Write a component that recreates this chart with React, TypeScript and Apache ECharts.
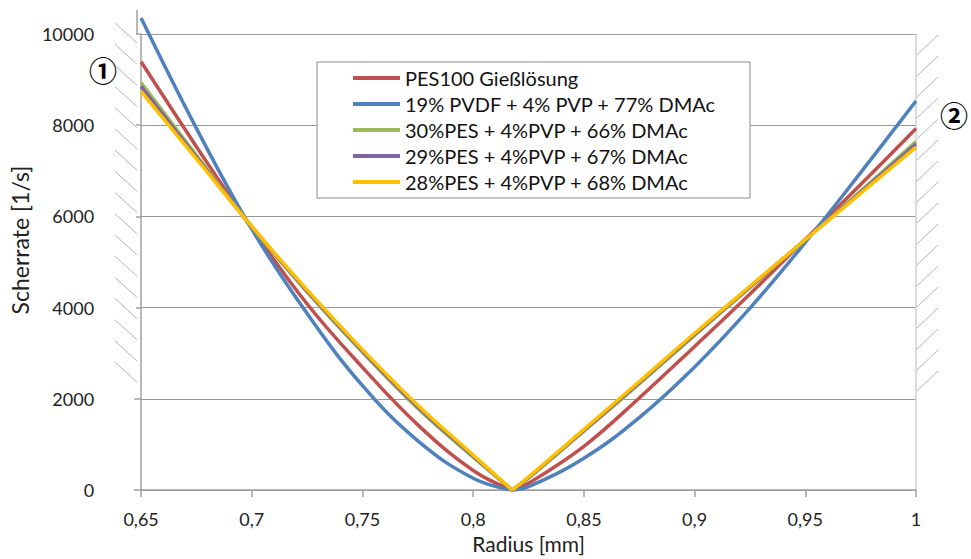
import React, { useEffect, useRef } from "react";
import * as echarts from "echarts";

// Radius [mm]; index 7 is the zero point of the shear rate
const radius = [0.65, 0.675, 0.7, 0.725, 0.75, 0.775, 0.8, 0.8176, 0.825, 0.85, 0.875, 0.9, 0.925, 0.95, 0.975, 1.0];
const pes100 = [9390, 7530, 5740, 4080, 2690, 1430, 430, 0, 150, 960, 2020, 3150, 4300, 5500, 6700, 7930];
const pvdf19 = [10350, 7930, 5720, 3870, 2290, 1080, 260, 0, 75, 700, 1590, 2700, 3990, 5430, 6960, 8530];
const pes30 = [8935, 7340, 5770, 4340, 3020, 1790, 720, 0, 260, 1290, 2330, 3390, 4440, 5490, 6555, 7640];
const pes29 = [8850, 7300, 5775, 4365, 3050, 1825, 745, 0, 275, 1310, 2355, 3415, 4455, 5490, 6530, 7585];
const pes28 = [8740, 7260, 5780, 4390, 3080, 1860, 770, 0, 290, 1330, 2380, 3440, 4470, 5490, 6505, 7520];
const zeroIndex = 7;

const seriesNames = [
  "PES100 Gießlösung",
  "19% PVDF + 4% PVP + 77% DMAc",
  "30%PES + 4%PVP + 66% DMAc",
  "29%PES + 4%PVP + 67% DMAc",
  "28%PES + 4%PVP + 68% DMAc",
];
const seriesValues = [pes100, pvdf19, pes30, pes29, pes28];
const seriesColors = ["#C0504D", "#4F81BD", "#9BBB59", "#8064A2", "#FFC000"];

const FONT = "Lato";

export default function App() {
  const ref = useRef<HTMLDivElement>(null);
  useEffect(() => {
    if (!ref.current) return;
    const chart = echarts.init(ref.current, null, { renderer: "svg" });

    const deco: any[] = [];
    deco.push({
      type: "rect",
      shape: { x: 108, y: 18, width: 28, height: 370 },
      style: { fill: "#fff" },
      z: 100,
    });
    for (let i = 0; i < 17; i++) {
      const y0 = 23 + i * 21.2;
      deco.push({
        type: "line",
        shape: { x1: 115, y1: y0, x2: 137, y2: y0 + 20 },
        style: { stroke: "#b4b4b4", lineWidth: 1 },
        z: 101,
      });
    }
    for (let i = 0; i < 17; i++) {
      const y0 = 35 + i * 21;
      deco.push({
        type: "line",
        shape: { x1: 917, y1: y0 + 20, x2: 938, y2: y0 },
        style: { stroke: "#b4b4b4", lineWidth: 1 },
        z: 101,
      });
    }
    deco.push({
      type: "line",
      shape: { x1: 137, y1: 10, x2: 137, y2: 34 },
      style: { stroke: "#a0a0a0", lineWidth: 1.5 },
      z: 101,
    });
    const circled = (text: string, x: number, y: number) => ({
      type: "text",
      x,
      y,
      style: {
        text,
        fontSize: 28,
        fontWeight: "bold",
        fontFamily: "Noto Sans CJK JP",
        fill: "#000",
        align: "center",
        verticalAlign: "middle",
      },
      z: 102,
    });
    deco.push(circled("①", 103, 70));
    deco.push(circled("②", 954, 115));

    const series: any[] = [];
    seriesNames.forEach((name, i) => {
      const pts = radius.map((r, j) => [r, seriesValues[i][j]]);
      const halves = [pts.slice(0, zeroIndex + 1), pts.slice(zeroIndex)];
      halves.forEach((data) => {
        series.push({
          name,
          type: "line",
          data,
          showSymbol: false,
          smooth: 0.4,
          clip: false,
          lineStyle: { color: seriesColors[i], width: 3.5 },
          itemStyle: { color: seriesColors[i] },
          z: 2 + i,
        });
      });
    });

    chart.setOption({
      animation: false,
      backgroundColor: "#fff",
      grid: { left: 137, right: 55, top: 34, bottom: 65, containLabel: false },
      legend: {
        orient: "vertical",
        left: 317,
        top: 62,
        padding: [6, 34, 6, 36],
        itemGap: 6,
        itemWidth: 47,
        itemHeight: 4,
        icon: "rect",
        backgroundColor: "#fff",
        borderColor: "#8c8c8c",
        borderWidth: 1,
        borderRadius: 0,
        data: seriesNames,
        textStyle: { fontFamily: FONT, fontSize: 20, color: "#111", lineHeight: 20 },
        z: 50,
      },
      xAxis: {
        type: "value",
        min: 0.65,
        max: 1,
        interval: 0.05,
        name: "Radius [mm]",
        nameLocation: "middle",
        nameGap: 42,
        nameTextStyle: { fontFamily: FONT, fontSize: 21, color: "#222" },
        axisLine: { show: true, lineStyle: { color: "#a0a0a0", width: 1.5 } },
        axisTick: { show: true, length: 7, lineStyle: { color: "#a0a0a0", width: 1.5 } },
        axisLabel: {
          margin: 20,
          fontFamily: FONT,
          fontSize: 18,
          color: "#222",
          formatter: (v: number) => String(+v.toFixed(2)).replace(".", ","),
        },
        splitLine: { show: false },
      },
      yAxis: [
        {
          type: "value",
          min: 0,
          max: 10000,
          interval: 2000,
          name: "Scherrate [1/s]",
          nameLocation: "middle",
          nameGap: 110,
          nameRotate: 90,
          nameTextStyle: { fontFamily: FONT, fontSize: 23, color: "#222", padding: [0, 0, 0, 44] },
          axisLine: { show: true, lineStyle: { color: "#a0a0a0", width: 1.5 } },
          axisTick: { show: true, length: 7, lineStyle: { color: "#a0a0a0", width: 1.5 } },
          axisLabel: {
            margin: 47,
            fontFamily: FONT,
            fontSize: 18,
            color: "#222",
            formatter: (v: number) => String(v),
          },
          splitLine: { show: true, lineStyle: { color: "#989898", width: 1.2 } },
        },
        {
          type: "value",
          min: 0,
          max: 10000,
          interval: 2000,
          position: "right",
          axisLine: { show: true, lineStyle: { color: "#d0d0d0", width: 1.5 } },
          axisTick: { show: false },
          axisLabel: { show: false },
          splitLine: { show: false },
        },
      ],
      series,
      graphic: deco,
    });
    return () => chart.dispose();
  }, []);
  return (
    <div
      ref={ref}
      style={{ position: "fixed", left: 0, top: 0, width: 971, height: 559 }}
    />
  );
}
